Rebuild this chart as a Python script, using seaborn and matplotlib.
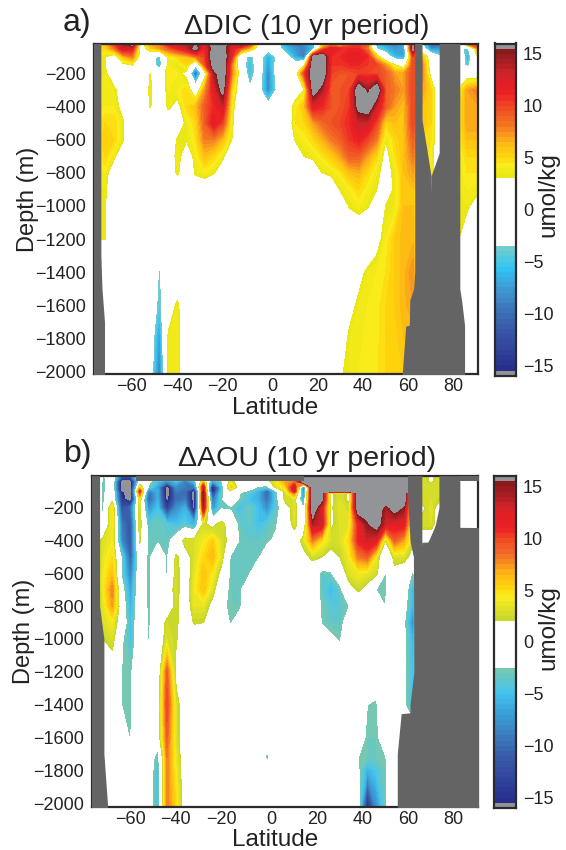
import numpy as np
import matplotlib
matplotlib.use("Agg")
import matplotlib.pyplot as plt
from matplotlib.colors import ListedColormap, BoundaryNorm
from matplotlib.transforms import ScaledTranslation
import seaborn as sns

sns.set_style("ticks")
plt.rcParams['font.family'] = ['Liberation Sans', 'DejaVu Sans']

# latitude columns shared by both panels
lats = [-78, -74, -70, -66, -62, -58, -54, -50, -46, -42,
        -38, -34, -30, -26, -22, -18, -14, -10, -6, -2,
        2, 6, 10, 14, 18, 22, 26, 30, 34, 38,
        42, 46, 50, 54, 58, 62, 66, 70, 74, 78, 82, 86, 91]

# panel a) DIC change per depth row, umol/kg (beyond +-16 shows as light gray)
dic_depths = [-20, -50, -100, -150, -200, -300, -400, -500, -600, -700, -800, -900, -1000, -1200, -1400, -1600, -1800, -2030]
dic_z20 = [5, 6, 10, 14, 17, 1, 7, 8, 12, 13,
           14, 15, 12, 17, 17, 13, 16, 11, 2, 1,
           -2, -8, -9, -8, -5, 3, 6, 2, 8, 10,
           9, -6, -8, -9, -6, 17, -4, -10, -10, 0, -3, 9, 12]
dic_z50 = [5, 5, 8, 13, 12, 1, 5, 7, 9, 11,
           13, 16.5, 11, 17, 17, 12, 9, 6, 1, -2,
           -2, -6, -8, -9, -6, 8, 12, 11, 11, 11,
           8, -4, -6, -8, -7, 17, -1, -9, -8, 0, -2, -5, 8]
dic_z100 = [4, 3, 1, 6, 8, 1, -1, -5, 4, 5,
            6, 8, 10, 18, 18, 11, -1, -5, -1, -7,
            -3, -2, -7, -10, 17, 18, 11, 11, 12, 12,
            11, 5, -1, -6, -7, 10, 6, 1, -3, 0, 3, -7, 4]
dic_z150 = [3.5, 3, 1, 2, 3, 0, -1, -6, 4, 3,
            5, -3, 9, 17, 18, 8, -1, -6, -1, -8,
            -2, 1, -1, 3, 18, 18, 10.5, 10.5, 11, 11,
            10.5, 10, 7, 3, 1, 10, 8, 1, 0, 0, 0, -5, 2]
dic_z200 = [3.5, 3.5, 1, 0, 1, 0, 3, 0, 4.5, 4,
            2, -11, 1, 14, 18, 8, 1, -6, -1, -9,
            -2, 2, 1, 10, 18, 18, 10, 9.5, 9.5, 10,
            10, 10, 9, 7, 7, 10, 8, 2, 0, 0, 2, 1, 1]
dic_z300 = [3.5, 4, 3.5, 1, 0, 0, 3.5, 0, 4, 4,
            5, 0, 7, 12, 16.5, 5, 1, -3, -2, -9,
            -3, 0, 1, 3, 17, 14, 9, 9.5, 10, 18,
            14.5, 18, 9, 8, 7, 10, 7, 5, 0, 0, 3, 7, 8]
dic_z400 = [3.5, 4, 4, 2, 0, 0, 3.2, 0, 3.5, 2,
            5, 6, 9, 11, 13, 4, 0, 0, 0, -2,
            0, 0, 4, 6, 12, 11, 9.5, 9.5, 10.5, 16.5,
            17.5, 13, 9, 7, 6, 10, 6, 5, 0, 0, 4, 7, 7]
dic_z500 = [4, 5, 5, 3.2, 0, 0, 0, 0, 1, 1,
            3.5, 5, 9, 12, 10, 3.5, 0, 0, 0, 0,
            0, 0, 4.5, 5, 7, 8.5, 9.5, 10, 11, 13,
            13, 10, 5, 6, 6, 10, 6, 5, 0, 0, 4, 7, 7]
dic_z600 = [4, 5.5, 5, 3.2, 0, 0, 0, 0, 1, 3.2,
            3.2, 4.5, 8, 8, 6, 3, 0, 0, 0, 0,
            0, 0, 3.2, 4, 5, 6.5, 8, 9, 10.5, 11.5,
            10, 8, 3, 5, 6, 9, 5, 4.5, 0, 0, 4, 6, 6]
dic_z700 = [4, 5, 3.5, 0, 0, 0, 0, 0, 0, 4,
            1, 3.8, 6, 5, 3.5, 0, 0, 0, 0, 0,
            0, 0, 0, 3, 3.5, 4.5, 5.5, 7, 9, 9,
            7, 5, 2, 4.5, 6, 8, 5, 4, 0, 0, 3.5, 5, 5]
dic_z800 = [3.5, 4, 1, 0, 0, 0, 0, 0, 0, 3.5,
            0, 3.3, 4, 3.2, 1, 0, 0, 0, 0, 0,
            0, 0, 0, 0, 1, 3, 3.5, 4.5, 6, 6.5,
            5, 3.5, 2, 3.5, 6, 7, 5, 4, 0, 0, 3.5, 4.5, 4.5]
dic_z900 = [3.5, 3.5, 0, 0, 0, 0, 0, 0, 0, 0,
            0, 1, 1, 0, 0, 0, 0, 0, 0, 0,
            0, 0, 0, 0, 0, 0, 1, 3.2, 4, 5,
            4, 3, 1, 3.5, 6, 6, 0, 0, 0, 0, 3.5, 4, 3.5]
dic_z1000 = [3.2, 3.2, 0, 0, 0, 0, 0, 0, 0, 0,
             0, 0, 0, 0, 0, 0, 0, 0, 0, 0,
             0, 0, 0, 0, 0, 0, 0, 1, 3.2, 4,
             3.2, 1, 3, 3.5, 6, 6, 0, 0, 0, 0, 3.5, 3.5, 1]
dic_z1200 = [3, 3, 0, 0, 0, 0, 0, 0, 0, 0,
             0, 0, 0, 0, 0, 0, 0, 0, 0, 0,
             0, 0, 0, 0, 0, 0, 0, 0, 0, 0,
             0, 2, 4, 5.5, 6.3, 6.3, 0, 0, 0, 0, 3.2, 0, 0]
dic_z1400 = [0, 0, 0, 0, 0, 0, 0, -4, -1, 0,
             0, 0, 0, 0, 0, 0, 0, 0, 0, 0,
             0, 0, 0, 0, 0, 0, 0, 0, 0, 2,
             3.5, 4, 4.5, 5.5, 6.3, 7.5, 0, 0, 0, 0, 0, 0, 0]
dic_z1600 = [0, 0, 0, 0, 0, 0, 0, -5, 1, 3.5,
             0, 0, 0, 0, 0, 0, 0, 0, 0, 0,
             0, 0, 0, 0, 0, 0, 0, 0, 2, 3.5,
             4, 4.2, 5, 5.5, 6.3, 7, 0, 0, 0, 0, 0, 0, 0]
dic_z1800 = [0, 0, 0, 0, 0, 0, -1, -8, 3.5, 4,
             0, 0, 0, 0, 0, 0, 0, 0, 0, 0,
             0, 0, 0, 0, 0, 0, 0, 1, 3.5, 3.8,
             4.2, 4.3, 5, 5.2, 6, 6, 0, 0, 0, 0, 0, 0, 0]
dic_z2030 = [0, 0, 0, 0, 0, 0, -1.5, -10, 3.5, 3.8,
             0, 0, 0, 0, 0, 0, 0, 0, 0, 0,
             0, 0, 0, 0, 0, 0, 0, 2.8, 3.5, 4,
             4.2, 4.4, 5, 5.5, 5.5, 5, 0, 0, 0, 0, 0, 0, 0]
dic_rows = [dic_z20, dic_z50, dic_z100, dic_z150, dic_z200, dic_z300, dic_z400, dic_z500, dic_z600,
            dic_z700, dic_z800, dic_z900, dic_z1000, dic_z1200, dic_z1400, dic_z1600, dic_z1800, dic_z2030]

# panel b) AOU change per depth row
aou_depths = [-5, -40, -75, -100, -110, -150, -200, -300, -400, -500, -600, -700, -800, -900, -1000, -1200, -1400, -1600, -1720, -1800, -2030]
aou_z5 = [3, -3, 0, -10, -10, 0, 0, 0, 0, 0,
          0, 0, 0, 0, 0, 0, 0, 0, 0, 0,
          0, 0, 0, 18, 18, 18, 18, 18, 18, 18,
          18, 18, 18, 18, 18, 18, 3, 1.5, 3, 0, 0, 0, 0]
aou_z40 = [3, -3.5, 0, -18, -18, -1, -2, -5, -8, -5,
           -9, -5, 5, -7, -3, 3, 0, 0, 0, 1,
           4, 7, 8, 18, 18, 18, 18, 18, 18, 18,
           18, 18, 18, 18, 18, 18, 3, 1.5, 3, 0, 0, 0, 0]
aou_z75 = [3, -3.5, 0, -18, -18, 4, -3, -7, -18, -8,
           -9, -10, 13, -17, -5, 6, 0, -1, -3, -4,
           3, 5, 13, -9, 18, 18, 18, 18, 18, 18,
           18, 18, 18, 18, 18, 18, 3, 3, 3, 0, 0, 0, 0]
aou_z100 = [2, -3.5, 0, -17, -18, 11, -9, -6, -18, -9,
            -10, -18, 14, -17, -4, 1, -2, -3, -6, -11,
            -3, 3, 12, -9, 18, 17, 17, 17, 17, 17,
            17, 17, 17, 17, 17, 17, 3, 3, 3, 0, 0, 0, 0]
aou_z110 = [1, -3.2, 0.5, -15, -18, 9, -10, -6, -18, -9.5,
            -10, -18, 15, -14, -3.5, 0.5, -2.5, -4, -6, -10.5,
            -3.5, 3, 8, -8, 18, 16, 1.5, 3, 1.5, 18,
            18, 18, 18, 18, 18, 3, 3, 3, 3, 0, 0, 0, 0]
aou_z150 = [0, -3, 1, -14, -18, 4, -11, -6, -17, -10,
            -9, -18, 15, -10, -3, 0, -3, -5, -6, -10,
            -4, 3, 3, -7, 18, 16, 1.5, 3, 1.5, 18,
            18, 18, 18, 18, 18, 3, 3, 3, 2, 0, 0, 0, 0]
aou_z200 = [0, -3, 5, -12, -10, 3, -8, -5, -14, -8,
            -6, -18, 14, -8, -3, -3, -5, -3, -5, -8,
            -4, 0, 3.5, -3, 18, 12, 1.5, 3.5, 2.5, 18,
            17, 18, 14, 17, 15, 3, 1, 3.5, 0, 0, 0, 0, 0]
aou_z300 = [0, -2.8, 5, -9, -12, 3, -4, -3, -4, -5,
            -4, -6, 2.5, 1, 3, 0, -3.5, -3.5, -5, -4,
            -2.8, 0, 3, -1, 14, 13, 1.5, 3, 3.5, 11,
            15, 17, 13, 12, 12, 3, 3, 3, 0, 0, 0, 0, 0]
aou_z400 = [0, 3, 4, -8, -12, 2.5, -3.5, -3, -3.5, -1,
            3, 3, 4, 5.5, 3, 1, -3, -3.5, -3.5, -3,
            -2, 0, 0, 3, 8, 5, 3, 3, 5, 11,
            13, 12, 2, 9, 7, 2.5, 0, 0, 0, 0, 0, 0, 0]
aou_z500 = [0, 3.5, 5, -3, -11, 0, -3.2, 0, -3, 2.5,
            0.5, 3, 5, 6.5, 3, -3, -3.3, -3, -3, -1,
            0, 0, 0, 1, 2.6, 2, 1, 2, 4, 8,
            9, 4, -2.7, 3, 3, 1, 0, 0, 0, 0, 0, 0, 0]
aou_z600 = [0, 4, 6, -3, -9, 0, -3.2, 0, -3, 3,
            0, 3.5, 6, 4.5, 1, -3.2, -3.2, -3, 0, 0,
            0, 0, 0, 0, 0, -3.5, -3, 0, 3, 4,
            3.5, 2.6, -2.8, 1, 0, -3, 0, 0, 0, 0, 0, 0, 0]
aou_z700 = [0, 4, 8, -1, -7, 0, -3.2, 0, 0, 3,
            0, 4, 6, 3, -1, -3.2, -3.2, 0, 0, 0,
            0, 0, 0, 0, 0, -3.5, -5.5, -3.5, 1, 2.3,
            1, -2.6, -2.8, 0, 0, -6, 0, 0, 0, 0, 0, 0, 0]
aou_z800 = [0, 3.5, 7, 0, -6, 0, -3.2, 0, 0, 2.5,
            0, 3.5, 3.5, 1, -2, -3, -3, 0, 0, 0,
            0, 0, 0, 0, 0, -3, -4, -4, -2.6, 0,
            0, 0, -2.6, 0, -1, -6, 0, 0, 0, 0, 0, 0, 0]
aou_z900 = [0, 3, 4, 0, -5, 0, -3, 0, 2.5, 2.5,
            0, 2.2, 2, 0, -1, -2.8, -1, 0, 0, 0,
            0, 0, 0, 0, 0, -2.7, -3.5, -3.5, -1, 0,
            0, 0, -2.6, 0, -2, -8, 0, 0, 0, 0, 0, 0, 0]
aou_z1000 = [0, 2, 3, -2, -5, 0, -2.8, 0, 3, 2.2,
             0, 0, 0, 0, 0, 0, 0, 0, 0, 0,
             0, 0, 0, 0, 0, -1, -2, -2.8, 0, 0,
             0, 0, 0, 0, -1.5, -6, 0, 0, 0, 0, 0, 0, 0]
aou_z1200 = [0, 0, 0, -2.5, -3, 0, 0, -0.5, 9, 1,
             0, 0, 0, 0, 0, 0, 0, 0, 0, 0,
             0, 0, 0, 0, 0, 0, 0, 0, 0, 0,
             0, -1.5, 0, 0, -2, -5, 0, 0, 0, 0, 0, 0, 0]
aou_z1400 = [0, 0, 0, -2.5, -3, 0, 0, 0, 10, 3,
             0, 0, 0, 0, 0, 0, 0, 0, 0, 0,
             0, 0, 0, 0, 0, 0, 0, 0, 0, -1,
             -2.5, -2.7, -1, 0, -2, -5, 0, 0, 0, 0, 0, 0, 0]
aou_z1600 = [0, 0, 0, -2, -2.6, 0, 0, 0, 9, 3,
             0, 0, 0, 0, 0, 0, 0, 0, 0, 0,
             0, 0, 0, 0, 0, 0, 0, 0, 0, -1,
             -3, -3, -1, 0, 0, 0, 0, 0, 0, 0, 0, 0, 0]
aou_z1720 = [0, 0, 0, 0, 0, 0, -0.5, -4, 8, 3.5,
             0, 0, 0, 0, 0, 0, 0, 0, 0, -3.4,
             0, 0, 0, 0, 0, 0, 0, 0, 0, -2.5,
             -3, -3, -2.7, 0, 0, 0, 0, 0, 0, 0, 0, 0, 0]
aou_z1800 = [0, 0, 0, 0, 0, 0, -0.5, -5, 8, 4,
             0, 0, 0, 0, 0, 0, 0, 0, 0, 0,
             0, 0, 0, 0, 0, 0, 0, 0, 0, -2.2,
             -6, -4.5, -3, 0, 0, 0, 0, 0, 0, 0, 0, 0, 0]
aou_z2030 = [0, 0, 0, 0, 0, 0, -0.5, -5, 8, 5,
             0, 0, 0, 0, 0, 0, 0, 0, 0, 0,
             0, 0, 0, 0, 0, 0, 0, 0, 0, -1,
             -16, -8, -3, 0, 0, 0, 0, 0, 0, 0, 0, 0, 0]
aou_rows = [aou_z5, aou_z40, aou_z75, aou_z100, aou_z110, aou_z150, aou_z200, aou_z300, aou_z400, aou_z500, aou_z600,
            aou_z700, aou_z800, aou_z900, aou_z1000, aou_z1200, aou_z1400, aou_z1600, aou_z1720, aou_z1800, aou_z2030]

# land outlines (lat at each depth)
dic_sland_depth = [-10, -1300, -1500, -1700, -2030]
dic_sland_lat = [-75.8, -75.8, -75.3, -74.2, -74.2]
dic_land_depth = [-10, -480, -680, -820, -1400, -1500, -1570, -1720, -1725, -2030]
dic_land_west = [62.8, 62.8, 62.8, 62.8, 62.8, 62.3, 60.6, 60.4, 58.8, 57.2]
dic_gap_west = [66, 66, 68.4, 70, 71, 71, 71, 71, 71, 71]
dic_gap_east = [73.6, 73.6, 73.6, 70, 70, 70, 70, 70, 70, 70]
dic_land_east = [82.7, 82.7, 82.7, 82.7, 82.7, 82.7, 83.5, 84.8, 84.8, 84.8]

aou_sland_depth = [-5, -800, -1000, -1700, -2030]
aou_sland_lat = [-75.6, -75.6, -73.7, -73.7, -72]
aou_land_depth = [-5, -100, -200, -300, -320, -321, -400, -410, -411, -500, -1200, -1400, -1450, -1455, -1700, -2030]
aou_land_west = [59.7, 59.7, 60, 60.4, 60.5, 60.5, 60.8, 60.9, 60.9, 62.3, 62.5, 60.8, 60.8, 56.9, 55.2, 55.2]
aou_gap_west = [66, 66, 66, 66, 66, 66, 66, 66, 66, 67, 67, 67, 67, 67, 67, 67]
aou_gap_east = [73.5, 73.5, 73.5, 72, 71.5, 71.5, 69, 68.5, 66, 66, 66, 66, 66, 66, 66, 66]
aou_land_east = [82.7, 82.7, 82.7, 82.7, 82.7, 92, 92, 92, 92, 92, 92, 92, 92, 92, 92, 92]
aou_strip_lat = [-59.4, 14]
aou_strip_top = [-5, -5]
aou_strip_bottom = [-38, -38]
aou_cap_lat = [82.7, 92]
aou_cap_top = [-5, -5]
aou_cap_bottom = [-38, -38]

# colour bar anchors
dic_neg_colors = ['#272f8c', '#31459c', '#3a5aa8', '#3b78ba', '#3f9ad2', '#2fc5f3', '#72cbcf']
dic_pos_colors = ['#ebe616', '#f9ec1a', '#ffd20c', '#fdbb14', '#f9971f', '#f47321', '#f15a24',
                  '#ef3e23', '#ed2024', '#e01f26', '#c9252b', '#a81e22', '#8b1a1c']
aou_neg_colors = ['#272f8c', '#31459c', '#3a5aa8', '#3b7dbd', '#3a9fd6', '#44c4ee', '#76c8b2']
aou_pos_colors = ['#c8d92c', '#e4e324', '#f9ec1a', '#ffcf0c', '#fdb515', '#f68a1f', '#f3652a',
                  '#f04a24', '#ed2024', '#e61f25', '#d0232a', '#aa1e22', '#8b1a1c']

levels = np.arange(-16, 16.5, 0.5)
OVER = '#929497'
LAND = '#646464'
INK = '#2b2b2b'
TEXT = '#222222'


def make_cmap(neg_colors, pos_colors, white_neg, white_pos):
    # white band in the middle, gray end bins, blends on both sides
    n_neg = int((15.5 - white_neg) / 0.5)
    n_pos = int((15.5 - white_pos) / 0.5)
    n_white = 64 - 2 - n_neg - n_pos
    colors = [OVER] + sns.blend_palette(neg_colors, n_neg) + ['#ffffff'] * n_white + sns.blend_palette(pos_colors, n_pos) + [OVER]
    cmap = ListedColormap(colors)
    cmap.set_over(OVER)
    cmap.set_under(OVER)
    return cmap


def style_axis(ax):
    ax.tick_params(direction='in', length=3.5, width=1, color=INK, labelcolor=TEXT, labelsize=13, pad=6)
    for s in ax.spines.values():
        s.set_linewidth(1.6)
        s.set_color(INK)


def draw_colorbar(cax, cmap, norm, label_x, label_y):
    cax.pcolormesh([0, 1], levels, (levels[:-1] + 0.25).reshape(-1, 1), cmap=cmap, norm=norm)
    cax.set_xticks([])
    cax.set_ylim(-16, 16)
    cax.set_yticks([-15, -10, -5, 0, 5, 10, 15])
    cax.yaxis.tick_right()
    style_axis(cax)
    cax.tick_params(axis='y', left=True, right=True, length=4, pad=5)
    cax.yaxis.set_label_position('right')
    cax.set_ylabel('umol/kg', fontsize=17.5, color=TEXT)
    cax.yaxis.set_label_coords(label_x / W, 1 - label_y / H, transform=fig.transFigure)
    cax.yaxis.label.set_va('center')


W, H = 566, 850
fig = plt.figure(figsize=(W / 100, H / 100), dpi=100)


def px_axes(left, top, right, bottom):
    return fig.add_axes([left / W, 1 - bottom / H, (right - left) / W, (bottom - top) / H])


def draw_panel(box, cbox, rows, depths, cmap, xlim, ylim, title, title_y, tag, tag_x, tag_y, xlabel_y, ylabel_x, ylabel_y, cb_y):
    ax = px_axes(*box)
    norm = BoundaryNorm(levels, cmap.N)
    cs = ax.contourf(lats, depths, np.array(rows, dtype=float), levels=levels, cmap=cmap, norm=norm, extend='both')
    # no hairlines between the bands
    cs.set_edgecolor('face')
    cs.set_linewidth(0.25)
    ax.set_xlim(*xlim)
    ax.set_ylim(*ylim)
    ax.set_xticks([-60, -40, -20, 0, 20, 40, 60, 80])
    ax.set_yticks(np.arange(-2000, -199, 200))
    ax.set_xlabel('Latitude', fontsize=17.5, color=TEXT)
    ax.set_ylabel('Depth (m)', fontsize=17, color=TEXT)
    ax.xaxis.set_label_coords(275 / W, 1 - xlabel_y / H, transform=fig.transFigure)
    ax.yaxis.set_label_coords(ylabel_x / W, 1 - ylabel_y / H, transform=fig.transFigure)
    ax.xaxis.label.set_va('center')
    ax.yaxis.label.set_va('center')
    style_axis(ax)
    ax.tick_params(top=True, right=True)
    ax.tick_params(axis='x', pad=3)
    # the digits sit on the tick, the minus sign hangs to the left
    for tick_label, tick_value in zip(ax.get_xticklabels(), ax.get_xticks()):
        if tick_value < 0:
            tick_label.set_transform(tick_label.get_transform() + ScaledTranslation(-0.05, 0, fig.dpi_scale_trans))
    fig.text(307 / W, 1 - title_y / H, title, fontsize=20.5, ha='center', va='center', color=TEXT)
    fig.text(tag_x / W, 1 - tag_y / H, tag, fontsize=23, ha='center', va='center', color=TEXT)
    draw_colorbar(px_axes(*cbox), cmap, norm, 548, cb_y)
    return ax


# panel a
cmap_a = make_cmap(dic_neg_colors, dic_pos_colors, 3.5, 3.0)
ax_a = draw_panel((94.3, 44.3, 477.7, 374.3), (495, 43.5, 516, 375.7), dic_rows, dic_depths, cmap_a,
                  (-78.7, 90.6), (-2016, -25), '\u0394DIC (10 yr period)', 27, 'a)', 77, 23, 408, 28, 199, 195)
ax_a.fill_betweenx(dic_sland_depth, -80, dic_sland_lat, color=LAND, lw=0, zorder=3)
ax_a.fill_betweenx(dic_land_depth, dic_land_west, dic_gap_west, color=LAND, lw=0, zorder=3)
ax_a.fill_betweenx(dic_land_depth, dic_gap_east, dic_land_east, color=LAND, lw=0, zorder=3)

# panel b
cmap_b = make_cmap(aou_neg_colors, aou_pos_colors, 2.5, 2.0)
ax_b = draw_panel((92.3, 476, 478.3, 806.7), (494, 476, 516, 808), aou_rows, aou_depths, cmap_b,
                  (-78.8, 90.8), (-2022, -7), '\u0394AOU (10 yr period)', 459, 'b)', 78, 454, 840, 24, 631, 628)
ax_b.fill_betweenx(aou_sland_depth, -80, aou_sland_lat, color=LAND, lw=0, zorder=3)
ax_b.fill_betweenx(aou_land_depth, aou_land_west, aou_gap_west, color=LAND, lw=0, zorder=3)
ax_b.fill_betweenx(aou_land_depth, aou_gap_east, aou_land_east, color=LAND, lw=0, zorder=3)
ax_b.fill_between(aou_strip_lat, aou_strip_top, aou_strip_bottom, color=LAND, lw=0, zorder=3)
ax_b.fill_between(aou_cap_lat, aou_cap_top, aou_cap_bottom, color=LAND, lw=0, zorder=3)

plt.savefig('out.png', dpi=100)
